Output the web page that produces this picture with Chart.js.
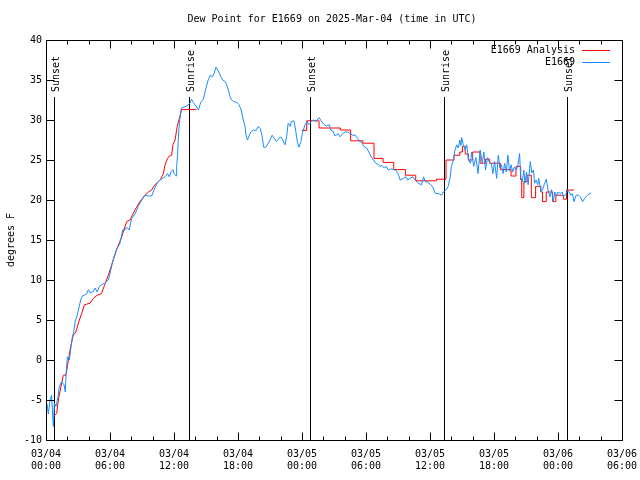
<!DOCTYPE html>
<html><head><meta charset="utf-8">
<script src="https://cdn.jsdelivr.net/npm/chart.js@4.4.1/dist/chart.umd.min.js"></script>
<style>html,body{margin:0;padding:0;background:#fff;}canvas{display:block;}</style>
</head><body>
<canvas id="c" width="640" height="480"></canvas>
<script>
const chartTitle = 'Dew Point for E1669 on 2025-Mar-04 (time in UTC)';
const yAxisTitle = 'degrees F';
const legendLabels = ['E1669 Analysis', 'E1669'];
const xTickDates = ['03/04','03/04','03/04','03/04','03/05','03/05','03/05','03/05','03/06','03/06'];
const xTickTimes = ['00:00','06:00','12:00','18:00','00:00','06:00','12:00','18:00','00:00','06:00'];
const yTickValues = [-10, -5, 0, 5, 10, 15, 20, 25, 30, 35, 40];

// hours since 03/04 00:00 UTC
const sunsetHours = [0.75, 24.78, 48.8];
const sunriseHours = [13.4, 37.3];

// E1669 Analysis (red) - first stretch (fine steps, drawn as a line)
const analysisEarlyHours = [0.75,1.0,1.16,1.375,1.63,1.875,2.1,2.31,2.56,2.8,3.125,3.34,3.6,4.125,4.44,4.8,5.2,5.5,5.84,6.16,6.6,7.1,7.56,7.875,8.34,8.8,9.28,9.6,9.9,10.2,10.7,11.0,11.16,11.4,11.56,11.78,11.9,12.1,12.3,12.5,12.7,14.1];
const analysisEarlyValues = [-7.0,-6.7,-5.0,-3.5,-1.9,-1.9,0.0,1.7,3.1,3.5,5.0,5.8,6.9,7.1,7.7,8.1,8.3,9.4,10.6,11.9,13.75,15.4,17.3,17.5,18.75,19.8,20.6,21.0,21.25,21.9,22.5,23.3,24.4,25.2,25.5,25.6,26.9,27.5,29.2,30.2,31.3,31.3];
// E1669 Analysis (red) - later stretch (step values)
const analysisLateHours = [23.97,24.44,25.6,27.6,28.56,29.7,30.75,31.6,32.6,33.7,34.66,36.6,37.5,38.25,38.8,39.05,39.3,39.6,40.0,40.7,41.2,41.6,42.6,43.6,44.06,44.5,44.6,44.8,45.1,45.5,45.9,46.4,46.55,46.9,47.5,47.8,48.5,48.8,49.5];
const analysisLateValues = [28.7,29.9,29.0,28.75,27.4,27.1,25.2,24.7,23.8,23.1,22.4,22.6,25.0,25.6,26.0,26.7,25.75,25.0,26.0,24.6,25.1,24.6,23.8,23.0,24.2,22.5,20.3,22.3,23.1,20.3,21.7,21.0,19.8,21.0,19.8,20.6,20.1,21.25,21.25];

// E1669 observations (blue)
const obsHours = [0.1,0.22,0.375,0.53,0.63,0.69,0.78,0.94,1.1,1.25,1.47,1.69,1.81,1.875,2.0,2.19,2.31,2.47,2.6,2.75,2.875,2.97,3.125,3.25,3.4,3.6,3.8,3.97,4.125,4.4,4.6,4.8,5.0,5.2,5.5,5.84,6.0,6.25,6.6,6.94,7.19,7.4,7.56,7.8,8.03,8.34,8.66,8.97,9.28,9.6,9.9,10.2,10.5,10.8,11.16,11.4,11.56,11.7,11.9,12.0,12.2,12.25,12.34,12.42,12.5,12.6,12.7,13.2,13.5,13.65,13.8,13.97,14.3,14.5,14.75,15.0,15.2,15.4,15.6,15.75,15.94,16.2,16.4,16.56,16.8,16.94,17.1,17.25,17.4,17.6,17.9,18.1,18.3,18.5,18.66,18.75,18.9,19.0,19.2,19.44,19.7,19.9,20.1,20.3,20.4,20.6,20.84,21.0,21.2,21.4,21.6,21.8,22.0,22.2,22.4,22.56,22.7,22.9,23.0,23.25,23.4,23.56,23.7,23.9,24.03,24.28,24.5,24.6,24.75,24.9,25.1,25.3,25.6,25.75,26.0,26.3,26.56,26.7,26.9,27.1,27.4,27.56,27.8,28.03,28.3,28.5,28.75,29.0,29.2,29.4,29.6,29.8,30.06,30.3,30.5,30.7,30.9,31.2,31.3,31.5,31.7,31.9,32.1,32.3,32.6,32.8,33.0,33.2,33.5,33.75,33.9,34.1,34.4,34.6,34.9,35.2,35.4,35.55,35.8,36.1,36.3,36.5,36.8,37.1,37.25,37.5,37.7,37.9,38.0,38.2,38.3,38.5,38.65,38.8,38.9,38.97,39.1,39.3,39.45,39.6,39.8,39.9,40.1,40.3,40.5,40.7,40.9,41.05,41.2,41.4,41.6,41.75,41.9,42.05,42.25,42.4,42.55,42.7,42.85,43.0,43.15,43.3,43.45,43.6,43.75,43.9,44.1,44.25,44.4,44.5,44.65,44.8,44.9,45.05,45.2,45.4,45.55,45.7,45.8,45.95,46.1,46.2,46.4,46.55,46.7,46.9,47.1,47.25,47.4,47.56,47.7,47.85,48.0,48.2,48.4,48.5,48.7,48.9,49.05,49.2,49.35,49.5,49.7,49.9,50.1,50.3,50.5,50.75,51.1];
const obsValues = [-5.5,-6.75,-5.0,-4.4,-7.1,-8.3,-5.4,-5.8,-4.8,-3.3,-2.7,-3.1,-4.0,-1.9,0.4,0.0,1.25,2.9,3.5,5.0,5.25,5.9,6.7,7.5,8.0,8.1,8.25,8.8,8.4,8.5,9.0,8.5,9.2,9.4,9.6,10.0,10.8,12.3,13.75,14.6,16.25,16.25,16.6,16.25,17.7,18.25,19.2,20.0,20.6,20.5,20.5,21.5,22.3,22.6,22.9,23.3,22.9,23.5,23.8,23.3,23.0,24.2,25.8,28.0,29.6,30.6,31.5,31.75,32.1,32.6,32.2,31.9,31.25,32.2,32.6,34.0,35.0,35.6,35.4,35.8,36.6,36.0,35.4,35.0,34.8,34.4,33.75,32.9,32.5,32.3,32.2,31.9,31.25,30.0,29.2,28.1,27.5,27.9,28.5,28.75,28.7,29.2,28.9,27.7,26.6,26.6,27.1,27.5,28.1,27.7,27.3,27.6,27.9,27.5,26.9,27.9,29.6,29.2,29.8,29.9,28.75,27.3,26.6,27.3,28.3,29.4,29.8,29.4,29.6,29.9,30.0,29.8,30.3,30.0,29.5,29.25,29.4,28.75,28.6,28.0,28.3,27.9,28.25,28.5,28.5,28.3,28.1,28.1,27.7,27.3,27.2,26.7,26.5,25.9,25.4,25.0,24.6,24.4,24.2,24.3,24.0,24.2,23.75,23.9,23.8,23.7,23.3,22.5,22.7,22.9,22.5,22.7,22.9,22.5,22.1,21.9,22.9,22.3,22.2,21.9,21.5,20.8,20.8,20.6,21.0,21.25,21.7,22.9,24.2,25.0,26.0,26.9,26.5,27.5,26.8,27.8,27.0,26.25,26.9,25.0,24.6,26.0,24.2,25.3,23.3,26.25,24.6,26.0,23.75,25.3,24.6,24.5,23.3,24.8,22.7,25.6,24.0,24.4,23.3,24.6,23.5,25.6,23.6,24.4,23.5,24.1,23.75,24.4,25.8,22.9,22.3,23.75,22.1,23.5,21.9,24.8,23.4,23.75,22.1,22.5,21.9,22.7,21.0,21.3,21.9,22.6,21.0,20.4,21.3,19.8,21.0,20.5,21.0,20.8,21.0,20.4,20.6,21.25,21.0,20.6,20.8,19.8,20.6,20.6,20.4,19.8,20.2,20.6,20.9];

const RED = '#ff0000';
const BLUE = '#1a8cff';
const FONT = '10px "DejaVu Sans Mono", "Liberation Mono", monospace';

function toPoints(xs, ys) { return xs.map((x, i) => ({x: x, y: ys[i]})); }

const decor = {
  id: 'decor',
  beforeDatasetsDraw(chart) {
    const ctx = chart.ctx, xs = chart.scales.x, a = chart.chartArea;
    ctx.save();
    ctx.strokeStyle = '#000'; ctx.lineWidth = 1;
    ctx.fillStyle = '#000'; ctx.font = FONT;
    const events = sunsetHours.map(h => [h, 'Sunset']).concat(sunriseHours.map(h => [h, 'Sunrise']));
    events.forEach(([h, label]) => {
      const px = Math.round(xs.getPixelForValue(h)) + 0.5;
      ctx.beginPath(); ctx.moveTo(px, a.top + 57); ctx.lineTo(px, a.bottom); ctx.stroke();
      ctx.save();
      ctx.translate(px + 2, a.top + 52);
      ctx.rotate(-Math.PI / 2);
      ctx.textAlign = 'left'; ctx.textBaseline = 'middle';
      ctx.fillText(label, 0, 0);
      ctx.restore();
    });
    ctx.restore();
  },
  afterDraw(chart) {
    const ctx = chart.ctx, xs = chart.scales.x, ys = chart.scales.y, a = chart.chartArea;
    ctx.save();
    ctx.strokeStyle = '#000'; ctx.lineWidth = 1;
    const L = Math.round(a.left) + 0.5, R = Math.round(a.right) + 0.5;
    const T = Math.round(a.top) + 0.5, B = Math.round(a.bottom) + 0.5;
    ctx.beginPath();
    for (let h = xs.min; h <= xs.max + 1e-9; h += 2) {
      const major = Math.abs(h / 6 - Math.round(h / 6)) < 1e-6;
      const len = major ? 8 : 4;
      const px = Math.round(xs.getPixelForValue(h)) + 0.5;
      ctx.moveTo(px, B); ctx.lineTo(px, B - len);
      ctx.moveTo(px, T); ctx.lineTo(px, T + len);
    }
    yTickValues.forEach(v => {
      const py = Math.round(ys.getPixelForValue(v)) + 0.5;
      ctx.moveTo(L, py); ctx.lineTo(L + 8, py);
      ctx.moveTo(R, py); ctx.lineTo(R - 8, py);
    });
    ctx.stroke();
    ctx.strokeRect(L, T, R - L, B - T);

    ctx.fillStyle = '#000'; ctx.font = FONT;
    ctx.textAlign = 'center'; ctx.textBaseline = 'middle';
    ctx.fillText(chartTitle, (a.left + a.right) / 2 - 2, 19);
    ctx.save();
    ctx.translate(11, (a.top + a.bottom) / 2);
    ctx.rotate(-Math.PI / 2);
    ctx.fillText(yAxisTitle, 0, 0);
    ctx.restore();
    const colors = [RED, BLUE];
    legendLabels.forEach((lab, i) => {
      const y = a.top + 10 + i * 12;
      ctx.fillStyle = '#000';
      ctx.textAlign = 'right'; ctx.textBaseline = 'middle';
      ctx.fillText(lab, a.right - 47, y);
      ctx.strokeStyle = colors[i];
      ctx.beginPath();
      ctx.moveTo(a.right - 40, Math.round(y) + 0.5); ctx.lineTo(a.right - 12, Math.round(y) + 0.5);
      ctx.stroke();
    });
    ctx.restore();
  }
};

Chart.defaults.color = '#000';
Chart.defaults.font.family = '"DejaVu Sans Mono", "Liberation Mono", monospace';
Chart.defaults.font.size = 10;

new Chart(document.getElementById('c'), {
  type: 'line',
  data: {
    datasets: [
      { label: legendLabels[1], data: toPoints(obsHours, obsValues), borderColor: BLUE, borderWidth: 1, pointRadius: 0, tension: 0, fill: false },
      { label: legendLabels[0], data: toPoints(analysisEarlyHours, analysisEarlyValues), borderColor: RED, borderWidth: 1, pointRadius: 0, tension: 0, fill: false },
      { label: legendLabels[0] + ' ', data: toPoints(analysisLateHours, analysisLateValues), borderColor: RED, borderWidth: 1, pointRadius: 0, tension: 0, fill: false, stepped: true }
    ]
  },
  options: {
    responsive: false,
    animation: false,
    events: [],
    layout: { padding: { top: 40, right: 18, left: 0, bottom: 0 } },
    plugins: { legend: { display: false }, title: { display: false }, tooltip: { enabled: false } },
    scales: {
      x: {
        type: 'linear', min: 0, max: 54,
        grid: { display: false, drawTicks: false },
        border: { display: false },
        ticks: {
          stepSize: 6, autoSkip: false, maxRotation: 0, padding: 8,
          callback: (v) => { const i = Math.round(v / 6); return [xTickDates[i], xTickTimes[i]]; }
        },
        afterFit: (s) => { s.height = 40; s.paddingLeft = 0; s.paddingRight = 0; }
      },
      y: {
        min: -10, max: 40,
        grid: { display: false, drawTicks: false },
        border: { display: false },
        ticks: { stepSize: 5, padding: 4, callback: (v) => String(v) },
        afterFit: (s) => { s.width = 46; s.paddingTop = 0; s.paddingBottom = 0; }
      }
    }
  },
  plugins: [decor]
});
</script>
</body></html>
